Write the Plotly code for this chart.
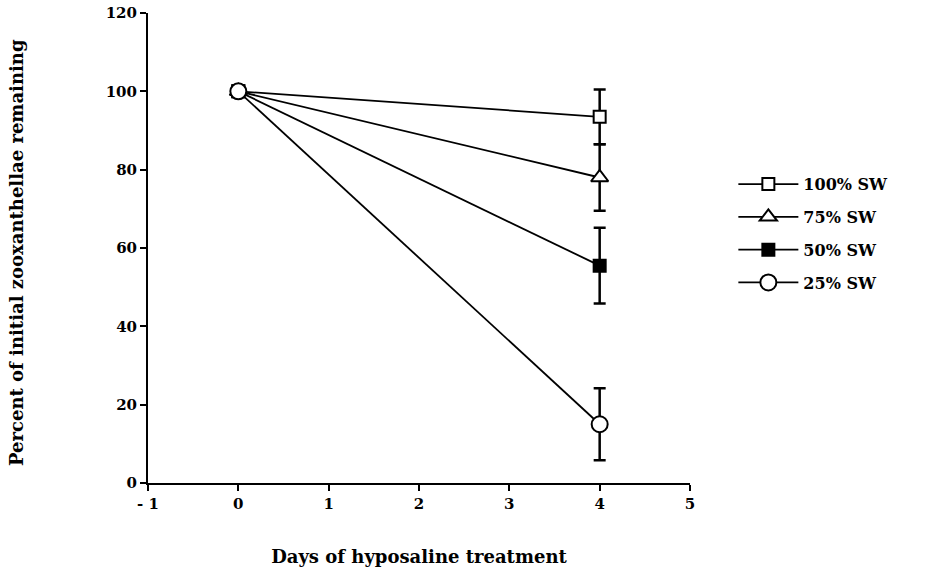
import plotly.graph_objects as go

days = [0, 4]
series_names = ["100% SW", "75% SW", "50% SW", "25% SW"]
values = {
    "100% SW": [100, 93.5],
    "75% SW": [100, 78],
    "50% SW": [100, 55.5],
    "25% SW": [100, 15],
}
errors = {
    "100% SW": [0, 7],
    "75% SW": [0, 8.5],
    "50% SW": [0, 9.7],
    "25% SW": [0, 9.2],
}
symbols = {
    "100% SW": "square",
    "75% SW": "triangle-up",
    "50% SW": "square",
    "25% SW": "circle",
}
fills = {"100% SW": "white", "75% SW": "white", "50% SW": "black", "25% SW": "white"}
sizes = {"100% SW": 12, "75% SW": 15, "50% SW": 12, "25% SW": 16}

x_ticks = [-1, 0, 1, 2, 3, 4, 5]
y_ticks = [0, 20, 40, 60, 80, 100, 120]

font_family = "DejaVu Serif"

fig = go.Figure()
for i, name in enumerate(series_names):
    fig.add_trace(go.Scatter(
        x=days, y=values[name], name=name, mode="lines+markers",
        legendgroup=f"g{i}",
        line=dict(color="black", width=1.8),
        marker=dict(symbol=symbols[name], size=sizes[name], color=fills[name],
                    line=dict(color="black", width=2)),
        error_y=dict(type="data", array=errors[name], visible=True,
                     color="black", thickness=2.5, width=6),
    ))

fig.update_layout(
    width=926, height=578,
    margin=dict(l=148, r=236, t=13, b=95, autoexpand=False),
    paper_bgcolor="white", plot_bgcolor="white",
    font=dict(family=font_family, color="black", size=15, weight="bold"),
    showlegend=True,
    legend=dict(x=1.08, y=0.672, xanchor="left", yanchor="top",
                font=dict(family=font_family, size=16, weight="bold"),
                itemwidth=60,
                tracegroupgap=9, bgcolor="rgba(0,0,0,0)"),
    annotations=[dict(
        text="Percent of initial zooxanthellae remaining",
        xref="paper", yref="paper", x=-0.243, y=0.49,
        xanchor="center", yanchor="middle", textangle=-90, showarrow=False,
        font=dict(family=font_family, size=18, weight="bold"),
    )],
)
fig.update_xaxes(
    range=[-1, 5], tickvals=x_ticks, ticktext=[("- 1" if v == -1 else str(v)) for v in x_ticks],
    showline=True, linecolor="black", linewidth=2, ticks="outside",
    ticklen=6, tickwidth=2, tickcolor="black", showgrid=False, zeroline=False,
    automargin=False,
    tickfont=dict(family=font_family, size=15, weight="bold"),
    title=dict(text="Days of hyposaline treatment", standoff=38,
               font=dict(family=font_family, size=18, weight="bold")),
)
fig.update_yaxes(
    range=[0, 120], tickvals=y_ticks,
    showline=True, linecolor="black", linewidth=2, ticks="outside",
    ticklen=6, tickwidth=2, tickcolor="black", showgrid=False, zeroline=False,
    automargin=False,
    tickfont=dict(family=font_family, size=15, weight="bold"),
)

fig.write_html("out.html")
